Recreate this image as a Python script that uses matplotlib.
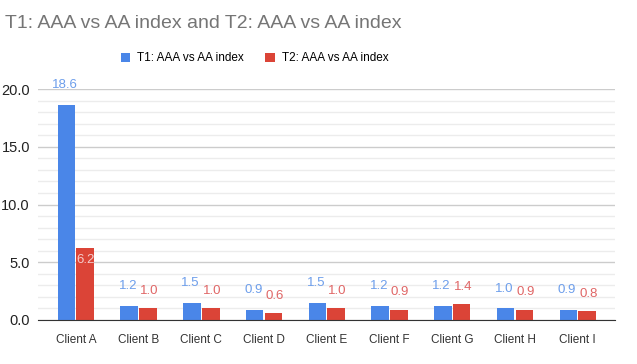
import numpy as np
import matplotlib
matplotlib.use("Agg")
import matplotlib.pyplot as plt
from matplotlib.ticker import MultipleLocator

clients = ["Client A", "Client B", "Client C", "Client D", "Client E",
           "Client F", "Client G", "Client H", "Client I"]
t1_values = [18.6, 1.2, 1.5, 0.9, 1.5, 1.2, 1.2, 1.0, 0.9]
t2_values = [6.2, 1.0, 1.0, 0.6, 1.0, 0.9, 1.4, 0.9, 0.8]
series_names = ["T1: AAA vs AA index", "T2: AAA vs AA index"]
title = "T1: AAA vs AA index and T2: AAA vs AA index"

plt.rcParams["font.family"] = ["Liberation Sans", "DejaVu Sans"]

blue, red = "#4a86e8", "#db4437"
blue_lbl, red_lbl = "#6d9eeb", "#e06666"

fig = plt.figure(figsize=(6.37, 3.64), dpi=100)
ax = fig.add_axes([0.060, 0.121, 0.906, 0.634])

x = np.arange(len(clients))
w = 0.28
off = 0.15
b1 = ax.bar(x - off, t1_values, w, color=blue, label=series_names[0], zorder=3)
b2 = ax.bar(x + off, t2_values, w, color=red, label=series_names[1], zorder=3)

for xi, v in zip(x, t1_values):
    ax.annotate(f"{v:.1f}", (xi - off - 0.02, v), xytext=(0, 10), textcoords="offset points",
                ha="center", va="bottom", color=blue_lbl, fontsize=9.5, annotation_clip=False)
for xi, v in zip(x, t2_values):
    if v > 5:
        ax.annotate(f"{v:.1f}", (xi + off, v), xytext=(0, -4), textcoords="offset points",
                    ha="center", va="top", color="#f4cccc", fontsize=9.5)
    else:
        ax.annotate(f"{v:.1f}", (xi + off + 0.02, v), xytext=(0, 8), textcoords="offset points",
                    ha="center", va="bottom", color=red_lbl, fontsize=9.5)

ax.set_xlim(-0.6, 8.6)
ax.set_ylim(0, 20)
ax.yaxis.set_minor_locator(MultipleLocator(1))
ax.set_yticks(np.arange(0, 21, 5))
ax.set_yticklabels([f"{t:.1f}" for t in np.arange(0, 21, 5)])
ax.grid(axis="y", which="major", color="#cccccc", linewidth=1, zorder=0)
ax.grid(axis="y", which="minor", color="#ececec", linewidth=1, zorder=0)
ax.set_xticks(x)
ax.set_xticklabels(clients, fontsize=8.5, color="#333333")
ax.tick_params(axis="y", labelsize=10.5, labelcolor="#222222", length=0, pad=6, which="both")
ax.tick_params(axis="x", length=0, pad=10)
for s in ["top", "right", "left"]:
    ax.spines[s].set_visible(False)
ax.spines["bottom"].set_color("#333333")
ax.spines["bottom"].set_zorder(4)

fig.text(0.008, 0.935, title, fontsize=14, color="#757575", va="center", ha="left")
fig.legend(handles=[b1, b2], labels=series_names, loc="center", bbox_to_anchor=(0.40, 0.84),
           ncol=2, frameon=False, fontsize=8.5, handlelength=0.8, handleheight=0.8,
           columnspacing=1.8, handletextpad=0.6)

fig.savefig("out.png", dpi=100)
